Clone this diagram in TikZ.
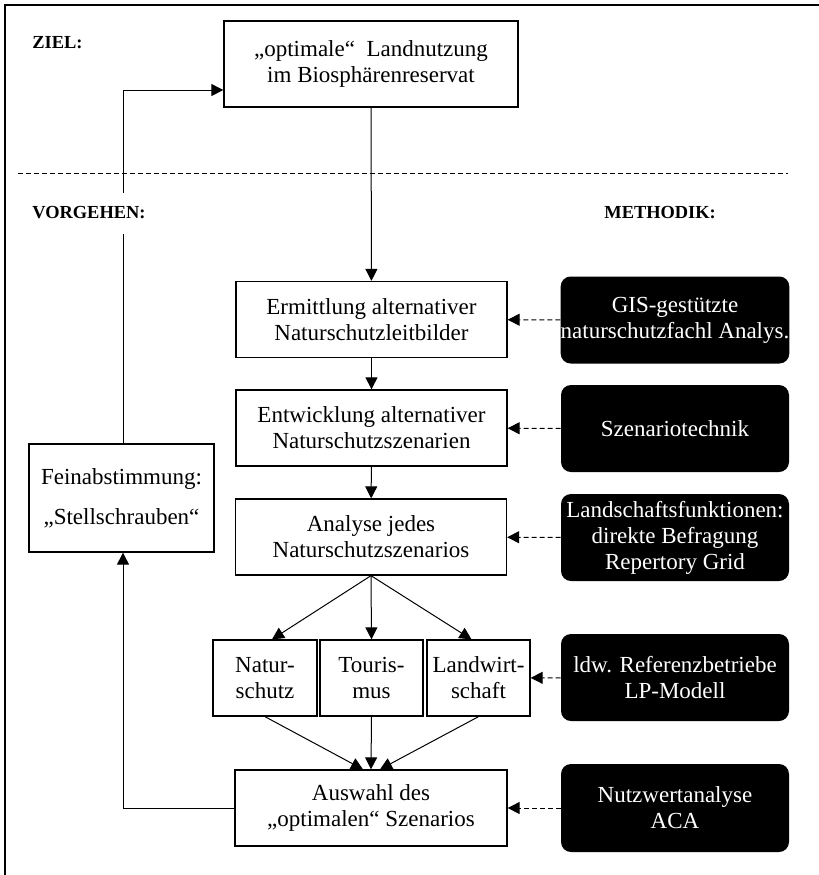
\documentclass[tikz,border=0pt]{standalone}
\usepackage{fontspec}
\setmainfont{Liberation Serif}
\usetikzlibrary{arrows.meta}

\begin{document}
\begin{tikzpicture}[
        x=0.5pt, y=-0.5pt,
        >={Triangle[length=6pt,width=6pt]},
        step_box/.style={rectangle, draw, line width=0.65pt, inner sep=0pt, align=center, font=\fontsize{11.5}{13}\selectfont},
        wide_box/.style={step_box, minimum width=135.5pt, minimum height=38pt},
        part_box/.style={step_box, minimum width=51.5pt, minimum height=38pt},
        method/.style={rectangle, fill=black, text=white, rounded corners=5pt, inner sep=0pt, align=center, minimum width=114pt, minimum height=43.5pt, font=\fontsize{11.5}{13}\selectfont},
        label_text/.style={anchor=west, inner sep=0pt, font=\fontsize{9.2}{11}\selectfont\bfseries},
        flow/.style={->, line width=0.5pt},
        hint/.style={->, line width=0.5pt, dash pattern=on 2.5pt off 1.5pt}
    ]
        \useasboundingbox (0,0) rectangle (819,875);

        % frame (left and top)
        \draw[line width=1.2pt] (5,875) -- (5,5) -- (819,5);

        % Ziel
        \node[label_text] (ziel) at (32,43) {ZIEL:};
        \node[step_box, minimum width=147pt, minimum height=43pt] (goal) at (371,64) {„optimale“\ \ Landnutzung\\im Biosphärenreservat};

        % separator
        \coordinate (sep_left) at (18,173);
        \coordinate (sep_right) at (788,173);
        \draw[line width=0.5pt, dash pattern=on 2.5pt off 1.5pt] (sep_left) -- (sep_right);

        % Vorgehen: main column
        \node[wide_box] (leitbilder) at (371.5,319.5) {Ermittlung alternativer\\Naturschutzleitbilder};
        \node[wide_box] (szenarien) at (371.5,428) {Entwicklung alternativer\\Naturschutzszenarien};
        \node[wide_box] (analyse) at (371,537) {Analyse jedes\\Naturschutzszenarios};
        \node[part_box, minimum width=52pt] (natur) at (265,678) {Natur-\\schutz};
        \node[part_box] (tourismus) at (371.5,678) {Touris-\\mus};
        \node[part_box] (landwirt) at (478.5,678) {Landwirt-\\schaft};
        \node[wide_box, minimum width=136pt] (auswahl) at (371,808) {Auswahl des\\„optimalen“ Szenarios};
        \node[step_box, minimum width=92.5pt, minimum height=54pt] (fein) at (121.5,498) {Feinabstimmung:\\[7pt]„Stellschrauben“};

        \draw[flow] (goal) -- (leitbilder);
        \draw[flow] (leitbilder) -- (szenarien);
        \draw[flow] (szenarien) -- (analyse);
        \draw[flow] (analyse.south) -- ([xshift=3.5pt]natur.north);
        \draw[flow] (analyse.south) -- (tourismus.north);
        \draw[flow] (analyse.south) -- ([xshift=-3.5pt]landwirt.north);
        \draw[flow] (natur.south) -- ([xshift=-4pt]auswahl.north);
        \draw[flow] (tourismus.south) -- (auswahl.north);
        \draw[flow] (landwirt.south) -- ([xshift=4.5pt]auswahl.north);

        % feedback loop
        \draw[flow] (auswahl.west) -| (fein.south -| 123,0);
        \draw[flow] (fein.north -| 123,0) |- (goal.west |- 0,90);

        % Labels
        \node[label_text, fill=white, minimum height=20.5pt] (vorgehen) at (32,213) {VORGEHEN:};
        \node[label_text] (methodik) at (604,213) {METHODIK:};

        % Methodik
        \node[method] (gis) at (675,320) {GIS-gestützte\\naturschutzfachl Analys.};
        \node[method] (technik) at (675,428.5) {Szenariotechnik};
        \node[method] (funktionen) at (675,537.5) {Landschaftsfunktionen:\\direkte Befragung\\Repertory Grid};
        \node[method] (betriebe) at (675,677.5) {ldw. Referenzbetriebe\\LP-Modell};
        \node[method, minimum height=44pt] (nutzwert) at (675,808) {Nutzwertanalyse\\ACA};

        \draw[hint] (gis) -- (leitbilder);
        \draw[hint] (technik) -- (szenarien);
        \draw[hint] (funktionen) -- (analyse);
        \draw[hint] (betriebe) -- (landwirt);
        \draw[hint] (nutzwert) -- (auswahl);

    \end{tikzpicture}
\end{document}
